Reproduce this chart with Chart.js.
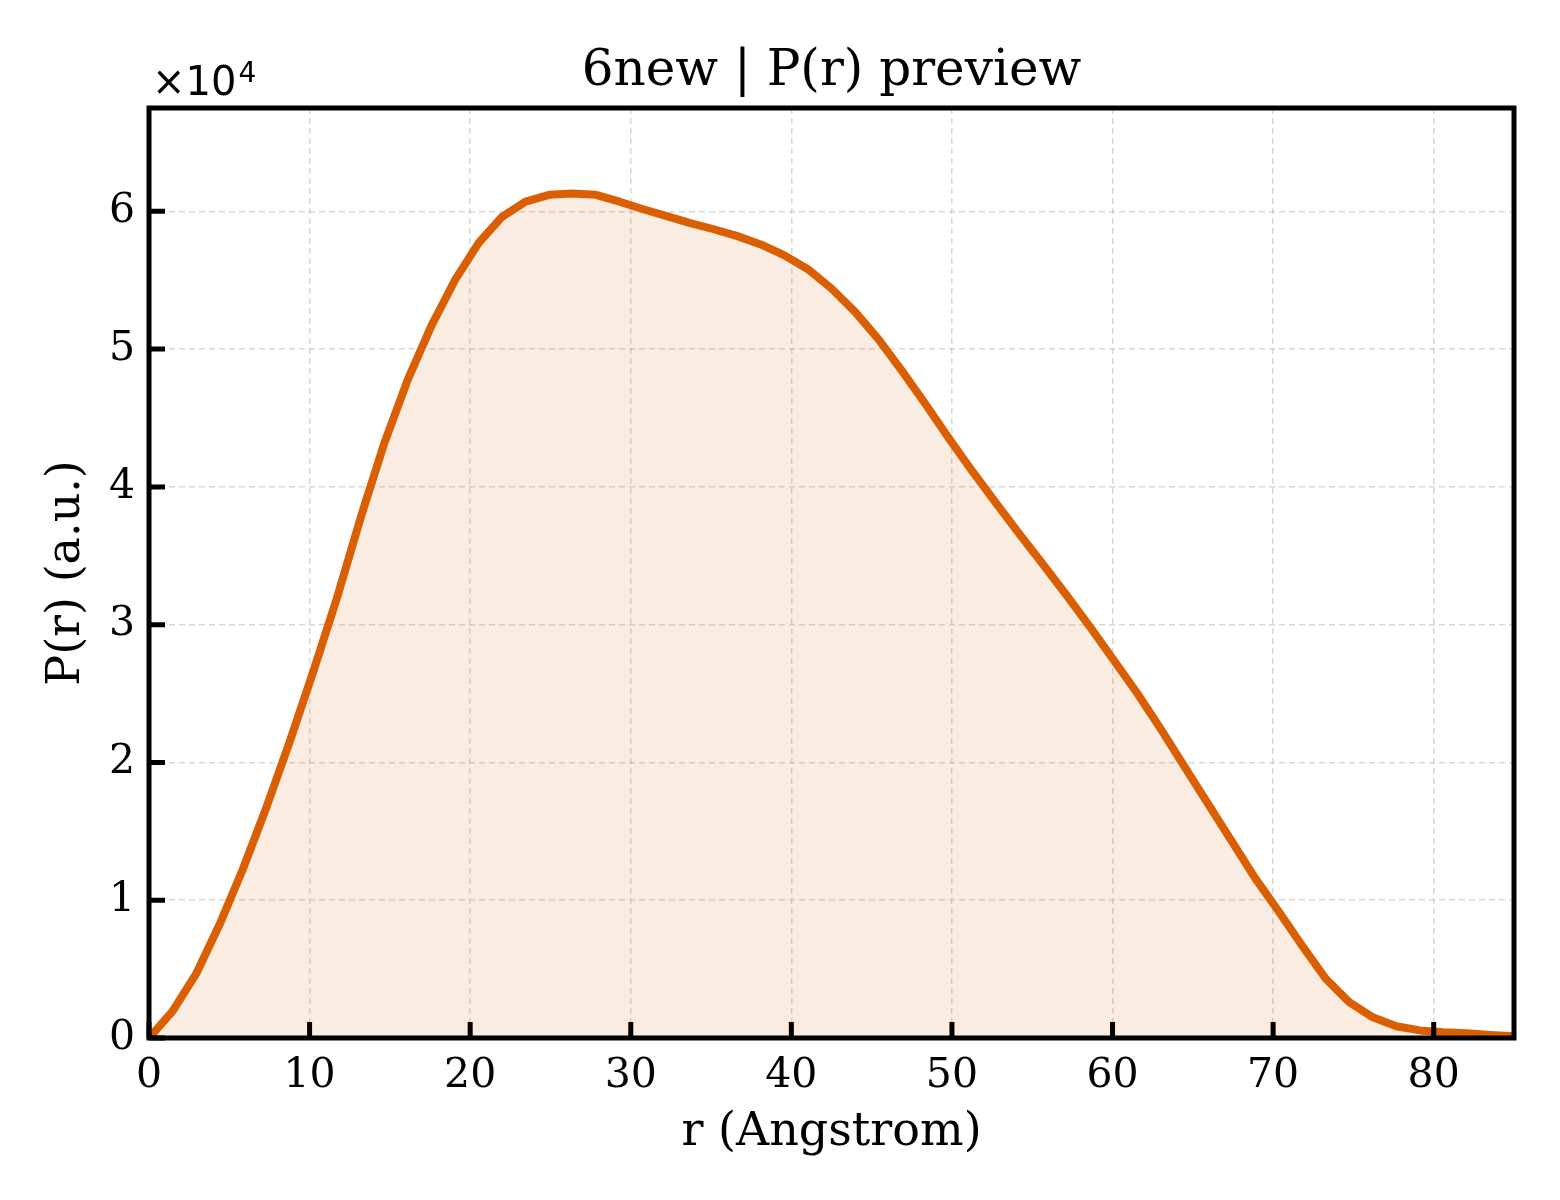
<!DOCTYPE html>
<html>
<head>
<meta charset="utf-8">
<title>6new | P(r) preview</title>
<script src="https://cdn.jsdelivr.net/npm/chart.js@4.4.1/dist/chart.umd.min.js"></script>
<style>
  body { margin: 0; background: #fff; }
  #wrap { width: 1560px; height: 1200px; }
</style>
</head>
<body>
<div id="wrap"><canvas id="prChart" width="1560" height="1200"></canvas></div>
<script>
const rValues = [0, 1.47, 2.93, 4.4, 5.86, 7.33, 8.79, 10.26, 11.72, 13.19,
  14.66, 16.12, 17.59, 19.05, 20.52, 21.98, 23.45, 24.91, 26.38, 27.84,
  29.31, 30.78, 32.24, 33.71, 35.17, 36.64, 38.1, 39.57, 41.03, 42.5,
  43.97, 45.43, 46.9, 48.36, 49.83, 51.29, 52.76, 54.22, 55.69, 57.16,
  58.62, 60.09, 61.55, 63.02, 64.48, 65.95, 67.41, 68.88, 70.34, 71.81,
  73.28, 74.74, 76.21, 77.67, 79.14, 80.6, 82.07, 83.53, 85];
const prValues = [0, 1950, 4650, 8250, 12300, 16800, 21600, 26700, 32000, 37800,
  43200, 47800, 51700, 55000, 57700, 59600, 60700, 61200, 61300, 61200,
  60700, 60150, 59650, 59150, 58700, 58200, 57600, 56800, 55800, 54400,
  52700, 50700, 48400, 46000, 43500, 41100, 38800, 36550, 34350, 32100,
  29800, 27400, 25000, 22400, 19700, 17000, 14300, 11600, 9200, 6700,
  4300, 2600, 1500, 850, 550, 420, 340, 220, 120];
const xTicks = [0, 10, 20, 30, 40, 50, 60, 70, 80];
const yTicks = [0, 10000, 20000, 30000, 40000, 50000, 60000];
const yScaleFactor = 10000;
const titleText = '6new | P(r) preview';

const serif = "'DejaVu Serif', serif";
const sans = "'DejaVu Sans', sans-serif";

// matplotlib-like frame, inward ticks, title and the offset label
const framePlugin = {
  id: 'frame',
  afterDraw(chart) {
    const {ctx, chartArea: a, scales} = chart;
    ctx.save();
    ctx.strokeStyle = '#000';
    ctx.lineWidth = 5;
    ctx.lineCap = 'butt';
    ctx.beginPath();
    scales.x.ticks.forEach(t => {
      const px = scales.x.getPixelForValue(t.value);
      ctx.moveTo(px, a.bottom); ctx.lineTo(px, a.bottom - 16);
    });
    scales.y.ticks.forEach(t => {
      const py = scales.y.getPixelForValue(t.value);
      ctx.moveTo(a.left, py); ctx.lineTo(a.left + 16, py);
    });
    ctx.stroke();
    ctx.strokeRect(a.left, a.top, a.right - a.left, a.bottom - a.top);

    ctx.fillStyle = '#000';
    ctx.textBaseline = 'alphabetic';

    ctx.textAlign = 'center';
    ctx.font = '50px ' + serif;
    ctx.fillText(titleText, (a.left + a.right) / 2, a.top - 23);

    ctx.textAlign = 'left';
    ctx.font = '40px ' + sans;
    const base = '\u00d710';
    const bx = a.left + 3;
    const by = a.top - 13;
    ctx.fillText(base, bx, by);
    const w = ctx.measureText(base).width;
    ctx.font = '28px ' + sans;
    ctx.fillText('4', bx + w + 2, by - 13);
    ctx.restore();
  }
};

const ctx = document.getElementById('prChart').getContext('2d');
new Chart(ctx, {
  type: 'line',
  data: {
    labels: rValues,
    datasets: [{
      data: rValues.map((r, i) => ({x: r, y: prValues[i]})),
      borderColor: '#d95f02',
      backgroundColor: 'rgba(217, 95, 2, 0.12)',
      borderWidth: 8,
      borderJoinStyle: 'round',
      pointRadius: 0,
      tension: 0,
      fill: 'origin'
    }]
  },
  options: {
    responsive: false,
    animation: false,
    layout: { padding: { left: 0, right: 46, top: 108, bottom: 0 } },
    plugins: {
      legend: { display: false },
      tooltip: { enabled: false },
      title: { display: false }
    },
    scales: {
      x: {
        type: 'linear',
        min: 0,
        max: 85,
        afterFit(scale) { scale.height = 162; },
        afterBuildTicks(scale) { scale.ticks = xTicks.map(v => ({value: v})); },
        ticks: {
          color: '#000',
          padding: 14,
          maxRotation: 0,
          font: { family: serif, size: 41 }
        },
        grid: { color: 'rgba(190,190,190,0.6)', lineWidth: 1.5, drawTicks: false },
        border: { display: false, dash: [6, 4] },
        title: {
          display: true,
          text: 'r (Angstrom)',
          color: '#000',
          font: { family: serif, size: 46 },
          padding: { top: 0, bottom: 39 }
        }
      },
      y: {
        type: 'linear',
        min: 0,
        max: 67500,
        afterFit(scale) { scale.width = 149; },
        afterBuildTicks(scale) { scale.ticks = yTicks.map(v => ({value: v})); },
        ticks: {
          color: '#000',
          padding: 14,
          font: { family: serif, size: 41 },
          callback: v => String(v / yScaleFactor)
        },
        grid: { color: 'rgba(190,190,190,0.6)', lineWidth: 1.5, drawTicks: false },
        border: { display: false, dash: [6, 4] },
        title: {
          display: true,
          text: 'P(r) (a.u.)',
          color: '#000',
          font: { family: serif, size: 46 },
          padding: { top: 39, bottom: 0 }
        }
      }
    }
  },
  plugins: [framePlugin]
});
</script>
</body>
</html>
